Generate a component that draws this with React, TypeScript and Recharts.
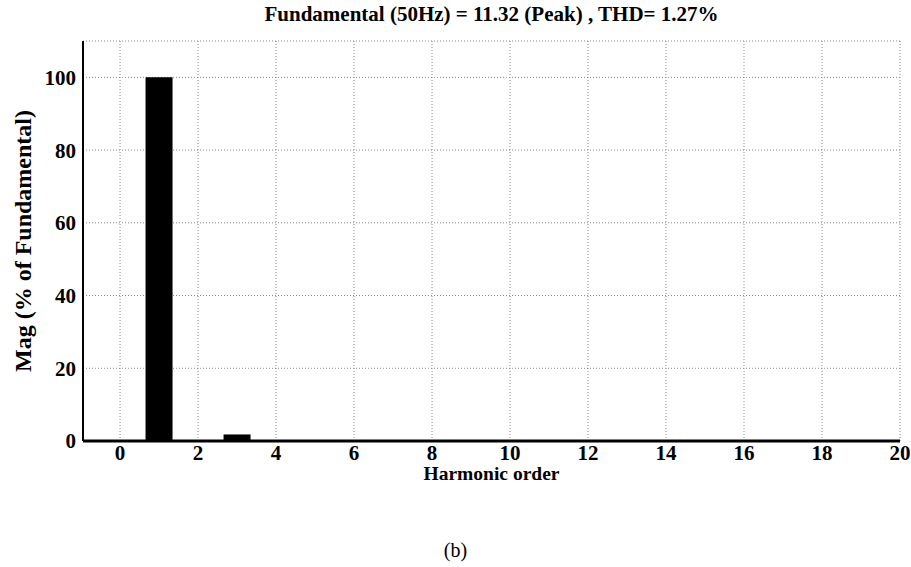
import React from 'react';
import {
  BarChart,
  Bar,
  XAxis,
  YAxis,
  CartesianGrid,
} from 'recharts';

// Harmonic spectrum (% of fundamental)
const orders = [0, 1, 2, 3, 4, 5, 6, 7, 8, 9, 10, 11, 12, 13, 14, 15, 16, 17, 18, 19, 20];
const magnitudes = [0.3, 100, 0.05, 1.8, 0.05, 0.1, 0.05, 0.1, 0.05, 0.1, 0.05, 0.1, 0.05, 0.1, 0.05, 0.1, 0.05, 0.1, 0.05, 0.1, 0.05];
const xTicks = [0, 2, 4, 6, 8, 10, 12, 14, 16, 18, 20];
const yTicks = [0, 20, 40, 60, 80, 100];

const data = orders.map((order, i) => ({ order, mag: magnitudes[i] }));

const FONT = '"Liberation Serif", "Times New Roman", serif';
const X_DOMAIN: [number, number] = [-0.95, 20];
const Y_DOMAIN: [number, number] = [0, 110];

const tickStyle = { fill: '#000', fontSize: 21, fontWeight: 700, fontFamily: FONT };
const blank = () => '';

export default function App() {
  return (
    <div style={{ position: 'absolute', left: 0, top: 0, width: 911, height: 567, background: '#fff', fontFamily: FONT }}>
      <div
        style={{
          position: 'absolute',
          left: 83,
          width: 817,
          top: 2,
          textAlign: 'center',
          fontSize: 21,
          fontWeight: 700,
          lineHeight: '24px',
        }}
      >
        Fundamental (50Hz) = 11.32 (Peak) , THD= 1.27%
      </div>

      <BarChart
        width={911}
        height={567}
        data={data}
        margin={{ top: 41, right: 11, bottom: 96, left: 0 }}
      >
        <CartesianGrid stroke="#8a8a8a" strokeDasharray="1 2" xAxisId="main" yAxisId="main" />
        <XAxis
          xAxisId="main"
          dataKey="order"
          type="number"
          domain={X_DOMAIN}
          ticks={xTicks}
          allowDataOverflow
          height={30}
          axisLine={{ stroke: '#000', strokeWidth: 3 }}
          tickLine={false}
          tickSize={0}
          tickMargin={4}
          tick={tickStyle}
        />
        <XAxis
          xAxisId="top"
          orientation="top"
          type="number"
          domain={X_DOMAIN}
          ticks={xTicks}
          allowDataOverflow
          height={0}
          mirror
          axisLine={{ stroke: '#222', strokeWidth: 2 }}
          tickLine={{ stroke: '#000' }}
          tickSize={4}
          tickFormatter={blank}
        />
        <XAxis
          xAxisId="bottomTicks"
          type="number"
          domain={X_DOMAIN}
          ticks={xTicks}
          allowDataOverflow
          height={0}
          mirror
          axisLine={false}
          tickLine={{ stroke: '#000' }}
          tickSize={4}
          tickFormatter={blank}
        />
        <YAxis
          yAxisId="main"
          type="number"
          domain={Y_DOMAIN}
          ticks={yTicks}
          allowDataOverflow
          width={83}
          axisLine={{ stroke: '#000', strokeWidth: 2 }}
          tickLine={false}
          tickSize={0}
          tickMargin={7}
          tick={tickStyle}
          label={{
            value: 'Mag (% of Fundamental)',
            angle: -90,
            position: 'insideLeft',
            offset: 22,
            style: { textAnchor: 'middle', fill: '#000', fontSize: 24, fontWeight: 700, fontFamily: FONT },
          }}
        />
        <YAxis
          yAxisId="leftTicks"
          type="number"
          domain={Y_DOMAIN}
          ticks={yTicks}
          allowDataOverflow
          width={0}
          mirror
          axisLine={false}
          tickLine={{ stroke: '#000' }}
          tickSize={4}
          tickFormatter={blank}
        />
        <YAxis
          yAxisId="right"
          orientation="right"
          type="number"
          domain={Y_DOMAIN}
          ticks={yTicks}
          allowDataOverflow
          width={0}
          mirror
          axisLine={{ stroke: '#000', strokeWidth: 2 }}
          tickLine={{ stroke: '#000' }}
          tickSize={4}
          tickFormatter={blank}
        />
        <Bar
          xAxisId="main"
          yAxisId="main"
          dataKey="mag"
          fill="#000"
          barSize={27}
          isAnimationActive={false}
        />
      </BarChart>

      <div
        style={{
          position: 'absolute',
          left: 83,
          width: 817,
          top: 462,
          textAlign: 'center',
          fontSize: 19.5,
          fontWeight: 700,
          lineHeight: '24px',
        }}
      >
        Harmonic order
      </div>
      <div
        style={{
          position: 'absolute',
          left: 0,
          width: 911,
          top: 538,
          textAlign: 'center',
          fontSize: 20,
          lineHeight: '24px',
        }}
      >
        (b)
      </div>
    </div>
  );
}
